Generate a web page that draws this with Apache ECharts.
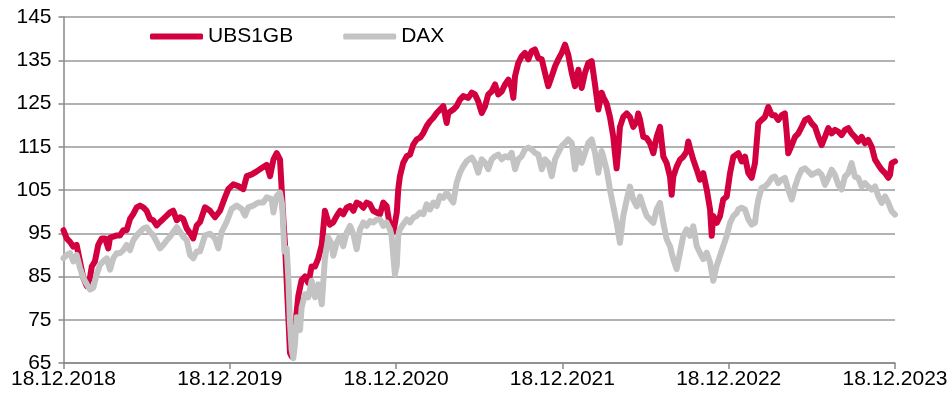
<!DOCTYPE html>
<html>
<head>
<meta charset="utf-8">
<script src="https://cdn.jsdelivr.net/npm/echarts@6/dist/echarts.min.js"></script>
<style>html,body{margin:0;padding:0;background:#fff}#c{width:951px;height:404px}</style>
</head>
<body>
<div id="c"></div>
<script>
// x = years since 18.12.2018
const tickLabels = ['18.12.2018','18.12.2019','18.12.2020','18.12.2021','18.12.2022','18.12.2023'];
const seriesNames = ['UBS1GB', 'DAX'];

const ubs1gb = [
[0,95.7],[0.019,93.8],[0.039,93.0],[0.059,91.9],[0.079,92.3],[0.099,88.5],[0.119,84.7],[0.140,82.8],[0.159,84.7],[0.170,87.3],
[0.189,88.5],[0.209,92.3],[0.230,93.8],[0.250,93.8],[0.269,91.5],[0.280,94.0],[0.299,94.2],[0.320,94.5],[0.340,94.5],[0.360,95.7],
[0.380,95.7],[0.400,98.3],[0.420,99.5],[0.440,101.0],[0.460,101.4],[0.480,101.0],[0.500,100.2],[0.520,98.3],[0.540,98.0],[0.560,96.8],
[0.580,97.6],[0.600,98.3],[0.621,99.1],[0.640,99.8],[0.660,100.2],[0.681,98.0],[0.701,98.7],[0.720,98.3],[0.741,96.1],[0.761,95.0],
[0.780,93.8],[0.801,96.8],[0.821,97.6],[0.851,101.0],[0.881,100.2],[0.911,98.7],[0.941,100.2],[0.971,103.3],[0.991,105.2],[1.021,106.3],
[1.051,105.9],[1.081,105.2],[1.102,108.2],[1.132,108.6],[1.162,109.3],[1.192,110.1],[1.222,110.8],[1.242,108.2],[1.262,112.0],[1.282,113.5],
[1.302,112.0],[1.312,105.2],[1.322,98.3],[1.332,92.3],[1.342,84.0],[1.352,75.6],[1.362,67.3],[1.372,66.5],[1.392,73.0],[1.412,80.5],
[1.432,84.2],[1.452,85.0],[1.472,83.5],[1.492,87.3],[1.512,87.3],[1.532,89.2],[1.553,92.3],[1.572,100.2],[1.592,97.6],[1.602,97.0],
[1.622,97.5],[1.643,99.0],[1.663,100.2],[1.682,99.4],[1.703,100.9],[1.723,101.3],[1.743,100.2],[1.763,102.1],[1.783,101.7],[1.803,100.9],
[1.823,102.1],[1.843,101.7],[1.863,100.2],[1.883,99.8],[1.903,99.4],[1.923,102.1],[1.943,101.3],[1.963,96.7],[1.983,95.2],[2.004,99.8],
[2.013,105.2],[2.023,108.2],[2.043,111.3],[2.064,112.8],[2.084,113.2],[2.103,115.5],[2.124,116.7],[2.144,117.1],[2.164,118.2],[2.184,119.8],
[2.204,120.9],[2.224,121.7],[2.244,122.8],[2.264,123.6],[2.284,124.4],[2.304,120.5],[2.314,122.8],[2.324,123.2],[2.344,123.6],[2.364,124.4],
[2.384,125.9],[2.404,126.7],[2.434,126.3],[2.455,127.5],[2.474,127.1],[2.494,125.5],[2.515,122.8],[2.524,122.5],[2.535,124.4],[2.554,127.1],
[2.575,127.8],[2.595,129.4],[2.614,127.1],[2.635,127.8],[2.655,129.4],[2.675,130.5],[2.695,128.6],[2.705,126.3],[2.715,131.3],[2.735,134.4],
[2.755,135.9],[2.775,136.7],[2.795,135.2],[2.815,137.1],[2.835,137.5],[2.855,135.5],[2.876,135.2],[2.895,132.1],[2.915,129.0],[2.936,131.3],
[2.956,133.6],[2.975,135.2],[2.996,136.7],[3.016,138.6],[3.035,136.3],[3.056,132.1],[3.076,129.0],[3.096,132.8],[3.116,128.6],[3.136,132.1],
[3.156,134.4],[3.176,134.8],[3.196,129.4],[3.216,123.6],[3.236,127.5],[3.246,126.5],[3.266,125.0],[3.286,121.9],[3.306,117.3],[3.316,113.5],
[3.326,110.0],[3.336,114.3],[3.346,119.6],[3.366,121.9],[3.387,122.7],[3.406,121.9],[3.426,119.6],[3.447,120.8],[3.456,122.7],[3.467,121.2],
[3.486,117.3],[3.507,117.0],[3.527,115.8],[3.547,113.5],[3.567,117.3],[3.587,119.6],[3.607,112.7],[3.627,111.2],[3.647,108.1],[3.657,103.9],
[3.667,108.1],[3.687,110.4],[3.707,112.0],[3.727,112.7],[3.747,113.9],[3.757,116.2],[3.767,114.7],[3.787,112.0],[3.808,109.7],[3.827,107.4],
[3.847,108.9],[3.868,105.1],[3.888,100.5],[3.898,94.4],[3.907,99.0],[3.928,97.4],[3.948,99.0],[3.967,102.8],[3.988,103.5],[4.008,108.9],
[4.028,112.7],[4.038,112.7],[4.058,113.5],[4.078,111.6],[4.098,112.7],[4.118,108.9],[4.138,107.8],[4.158,111.2],[4.168,115.8],[4.178,120.4],
[4.198,121.2],[4.218,121.9],[4.238,124.2],[4.259,122.3],[4.278,122.3],[4.298,121.2],[4.319,122.3],[4.338,122.7],[4.349,118.1],[4.358,113.5],
[4.379,115.4],[4.399,117.3],[4.419,118.1],[4.439,119.6],[4.459,121.2],[4.479,121.6],[4.499,120.4],[4.519,119.6],[4.539,117.3],[4.559,115.4],
[4.579,117.3],[4.599,119.3],[4.619,118.1],[4.639,118.9],[4.659,118.5],[4.679,117.7],[4.699,118.9],[4.719,119.3],[4.739,118.1],[4.759,117.3],
[4.779,116.2],[4.800,117.3],[4.819,115.8],[4.839,116.6],[4.860,115.0],[4.880,112.0],[4.900,110.8],[4.920,109.7],[4.940,108.9],[4.960,107.8],
[4.970,108.5],[4.980,111.2],[5.000,111.6]
];

const dax = [
[0,89.2],[0.019,90.0],[0.039,90.4],[0.059,88.5],[0.079,90.0],[0.099,87.0],[0.119,84.7],[0.140,83.2],[0.159,82.0],[0.179,82.4],
[0.200,85.5],[0.219,87.7],[0.239,88.5],[0.260,89.2],[0.280,86.6],[0.299,89.2],[0.320,90.4],[0.340,90.4],[0.360,91.1],[0.380,92.3],
[0.400,91.1],[0.420,93.4],[0.440,94.5],[0.460,95.3],[0.480,96.1],[0.500,96.4],[0.520,95.3],[0.540,94.5],[0.560,93.0],[0.580,91.5],
[0.600,92.3],[0.621,93.4],[0.640,94.2],[0.660,95.3],[0.681,96.4],[0.701,95.3],[0.720,94.2],[0.741,93.4],[0.761,90.0],[0.780,89.2],
[0.801,90.8],[0.821,90.8],[0.851,94.5],[0.881,94.9],[0.911,93.8],[0.931,91.5],[0.951,95.3],[0.981,97.6],[1.011,100.6],[1.041,101.4],
[1.072,100.6],[1.091,99.1],[1.111,101.0],[1.141,101.4],[1.171,102.1],[1.201,102.1],[1.222,103.3],[1.252,102.9],[1.262,99.8],[1.282,103.6],
[1.302,104.4],[1.316,101.4],[1.328,90.8],[1.342,91.5],[1.352,84.7],[1.362,74.1],[1.372,68.0],[1.382,66.1],[1.392,69.5],[1.402,75.6],
[1.412,74.1],[1.422,72.6],[1.432,77.9],[1.452,80.9],[1.472,80.2],[1.492,84.0],[1.512,80.2],[1.532,83.2],[1.553,78.6],[1.572,89.2],
[1.592,94.0],[1.613,92.5],[1.622,89.8],[1.643,92.8],[1.663,94.4],[1.682,92.0],[1.703,95.2],[1.723,96.7],[1.743,94.8],[1.763,91.3],
[1.783,95.9],[1.803,97.5],[1.823,96.7],[1.843,97.8],[1.863,97.5],[1.883,98.2],[1.903,98.2],[1.923,96.7],[1.943,97.5],[1.963,95.9],
[1.973,94.4],[1.983,89.8],[1.993,85.5],[2.004,87.5],[2.013,94.4],[2.023,95.9],[2.043,97.1],[2.064,98.2],[2.084,97.5],[2.103,98.6],
[2.124,99.0],[2.144,99.8],[2.164,99.4],[2.184,101.7],[2.204,100.5],[2.224,102.1],[2.244,101.3],[2.264,103.6],[2.284,103.2],[2.304,104.4],
[2.324,103.2],[2.344,102.1],[2.364,106.7],[2.384,109.0],[2.404,110.5],[2.425,111.7],[2.434,111.3],[2.455,112.5],[2.474,111.3],[2.494,109.0],
[2.515,112.1],[2.535,111.3],[2.554,109.8],[2.575,112.1],[2.595,112.8],[2.614,113.2],[2.635,112.1],[2.655,112.8],[2.675,112.5],[2.695,113.6],
[2.715,109.8],[2.735,112.1],[2.755,112.8],[2.775,114.4],[2.795,114.8],[2.815,114.4],[2.835,113.6],[2.855,113.2],[2.876,109.8],[2.895,112.1],
[2.915,111.3],[2.936,108.2],[2.956,112.1],[2.975,113.6],[2.996,115.2],[3.016,115.9],[3.035,116.7],[3.056,115.9],[3.076,109.8],[3.096,114.4],
[3.116,111.3],[3.136,113.6],[3.156,115.9],[3.176,116.7],[3.196,113.6],[3.216,109.0],[3.236,114.0],[3.246,112.7],[3.266,109.7],[3.286,105.1],
[3.306,101.2],[3.326,97.4],[3.346,92.8],[3.356,92.8],[3.366,99.0],[3.387,102.8],[3.406,105.8],[3.426,102.8],[3.447,101.2],[3.467,103.5],
[3.486,101.2],[3.507,99.0],[3.527,98.2],[3.547,97.4],[3.567,100.5],[3.587,102.0],[3.607,97.4],[3.627,93.6],[3.647,92.0],[3.667,89.0],
[3.687,86.7],[3.707,90.5],[3.727,94.4],[3.747,95.9],[3.767,94.4],[3.787,96.6],[3.808,92.0],[3.827,90.5],[3.847,89.0],[3.868,90.5],
[3.888,88.2],[3.907,84.0],[3.917,83.6],[3.928,87.5],[3.948,89.8],[3.967,92.0],[3.988,94.4],[4.008,97.4],[4.028,99.0],[4.048,99.7],
[4.058,100.5],[4.078,100.9],[4.098,100.5],[4.118,98.2],[4.138,97.0],[4.158,97.4],[4.168,100.5],[4.178,102.8],[4.198,105.5],[4.218,105.8],
[4.238,106.6],[4.259,107.8],[4.278,108.1],[4.298,106.6],[4.319,107.4],[4.338,107.8],[4.358,105.1],[4.379,102.8],[4.399,105.8],[4.419,108.1],
[4.439,109.7],[4.459,110.0],[4.479,109.3],[4.499,108.5],[4.519,108.9],[4.539,109.3],[4.559,108.5],[4.579,106.2],[4.599,107.8],[4.619,109.7],
[4.639,108.5],[4.659,106.2],[4.679,105.1],[4.699,108.1],[4.719,108.9],[4.739,111.2],[4.759,108.1],[4.779,107.8],[4.800,105.8],[4.819,106.6],
[4.839,105.8],[4.860,105.1],[4.880,105.8],[4.900,103.5],[4.920,102.0],[4.940,103.5],[4.960,102.0],[4.980,100.1],[5.000,99.3]
];

const chart = echarts.init(document.getElementById('c'), null, {renderer: 'canvas'});
const font = 'Liberation Sans, Arial, sans-serif';
chart.setOption({
  animation: false,
  backgroundColor: '#fff',
  grid: {left: 63.5, right: 56, top: 17, bottom: 41, containLabel: false},
  legend: {
    data: seriesNames,
    left: 150, top: 26, padding: 0,
    icon: 'roundRect', itemWidth: 53, itemHeight: 6, itemGap: 50,
    textStyle: {fontFamily: font, fontSize: 21, color: '#000'}
  },
  xAxis: {
    type: 'value', min: 0, max: 5, interval: 1,
    axisLine: {show: true, lineStyle: {color: '#888', width: 1.5}},
    axisTick: {show: true, length: 6, lineStyle: {color: '#888', width: 1.5}},
    splitLine: {show: false},
    axisLabel: {
      formatter: function (v) { return tickLabels[Math.round(v)] || ''; },
      fontFamily: font, fontSize: 21, color: '#000', margin: 6,
      showMinLabel: true, showMaxLabel: true, hideOverlap: false
    }
  },
  yAxis: {
    type: 'value', min: 65, max: 145, interval: 10,
    axisLine: {show: true, lineStyle: {color: '#888', width: 1.5}},
    axisTick: {show: true, length: 5, lineStyle: {color: '#888', width: 1.5}},
    splitLine: {show: true, lineStyle: {color: '#999', width: 1.5}},
    axisLabel: {fontFamily: font, fontSize: 21, color: '#000', margin: 12}
  },
  series: [
    {
      name: seriesNames[0], type: 'line', data: ubs1gb, symbol: 'none', showSymbol: false,
      itemStyle: {color: '#D2003F'},
      lineStyle: {color: '#D2003F', width: 6, join: 'round', cap: 'round'}
    },
    {
      name: seriesNames[1], type: 'line', data: dax, symbol: 'none', showSymbol: false,
      itemStyle: {color: '#C3C3C3'},
      lineStyle: {color: '#C3C3C3', width: 6, join: 'round', cap: 'round'}
    }
  ]
});
</script>
</body>
</html>
